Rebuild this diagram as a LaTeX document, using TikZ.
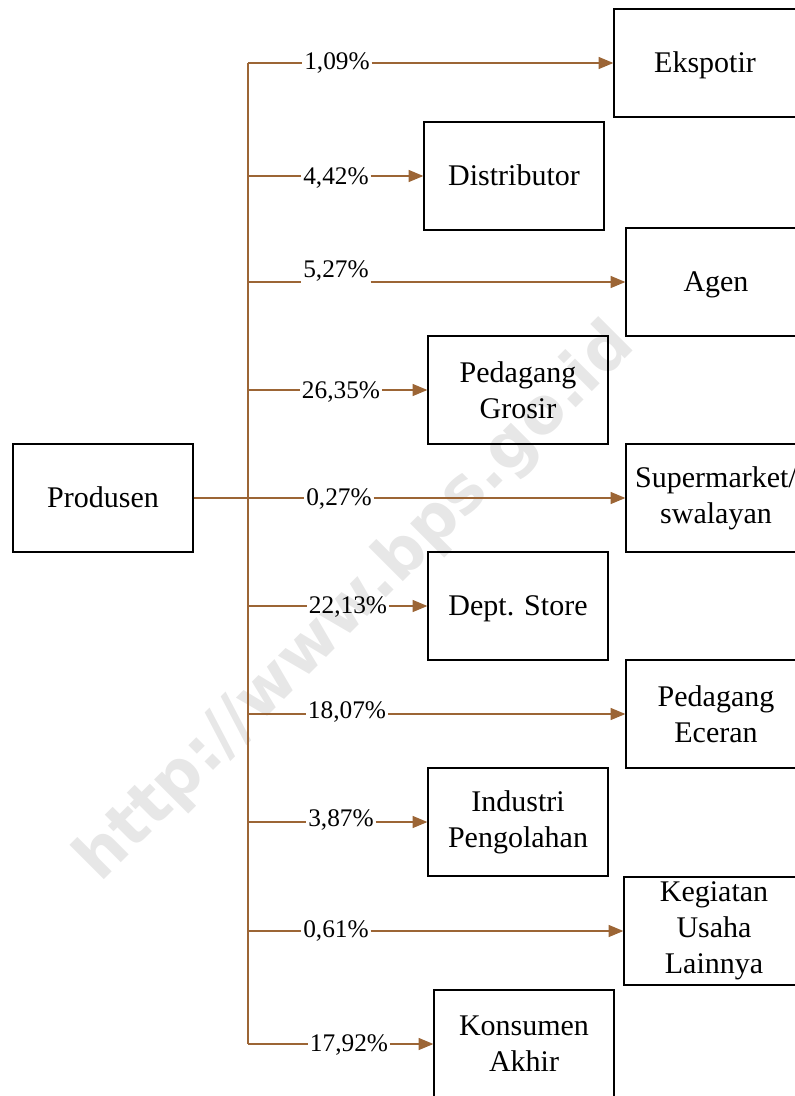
\documentclass[tikz,border=0pt]{standalone}
\usepackage{fontspec}
\setmainfont{Liberation Serif}
\newfontfamily\markfont{DejaVu Sans}
\usetikzlibrary{arrows.meta}
\definecolor{flow}{HTML}{9C6535}
\definecolor{markgray}{HTML}{E7E7E7}

\begin{document}
\begin{tikzpicture}[x=0.75pt,y=-0.75pt,
  box/.style={draw=black, line width=1pt, minimum width=135pt, minimum height=81pt,
    align=center, inner sep=0pt, font=\fontsize{22.5}{27}\selectfont},
  oneline/.style={text height=14.9pt, text depth=0pt},
  pct/.style={inner xsep=1.2pt, inner ysep=0pt, font=\fontsize{19}{22}\selectfont},
  flowline/.style={draw=flow, line width=0.8pt},
  arr/.style={flowline, -{Triangle[length=11pt,width=9pt]}}]

\useasboundingbox (0,0) rectangle (794,1096);

% faint watermark behind the chart
\node[anchor=base west, rotate=45, inner sep=0pt, text=markgray,
  font=\markfont\bfseries\fontsize{48}{52}\selectfont] (wm) at (100,884) {http://www.bps.go.id};

% source and destination boxes
\node[box, oneline] (prod)  at (103,498) {Produsen};
\node[box, oneline, minimum width=136.5pt] (eks) at (705,63) {Ekspotir};
\node[box, oneline] (dist)  at (514,176) {Distributor};
\node[box, oneline] (agen)  at (716,282) {Agen};
\node[box] (gros)  at (518,390) {Pedagang\\Grosir};
\node[box] (super) at (716,498) {Supermarket/\\swalayan};
\node[box, oneline] (dept)  at (518,606) {Dept. Store};
\node[box] (ecer)  at (716,714) {Pedagang\\Eceran};
\node[box] (ind)   at (518,822) {Industri\\Pengolahan};
\node[box] (keg)   at (714,931) {Kegiatan\\Usaha\\Lainnya};
\node[box] (kons)  at (524,1044) {Konsumen\\Akhir};

% share labels on the branches
\node[pct] (p-eks)   at (337,63)   {1,09\%};
\node[pct] (p-dist)  at (336,178)  {4,42\%};
\node[pct] (p-agen)  at (336,271)  {5,27\%};
\node[pct] (p-gros)  at (341,392)  {26,35\%};
\node[pct] (p-super) at (339,499)  {0,27\%};
\node[pct] (p-dept)  at (348,607)  {22,13\%};
\node[pct] (p-ecer)  at (347,712)  {18,07\%};
\node[pct] (p-ind)   at (341,820)  {3,87\%};
\node[pct] (p-keg)   at (336,931)  {0,61\%};
\node[pct] (p-kons)  at (349,1045) {17,92\%};

% trunk
\coordinate (top) at (248,0 |- eks);
\coordinate (bot) at (248,0 |- kons);
\coordinate (hub) at (248,0 |- prod);
\draw[flowline] (top) -- (bot);
\draw[flowline, line width=1.4pt] (prod.east) -- (hub);

% branches, broken around their labels
\foreach \n in {eks,dist,agen,gros,super,dept,ecer,ind,keg,kons}{
  \draw[flowline] (248,0 |- \n) -- (p-\n.west |- \n);
  \draw[arr] (p-\n.east |- \n) -- (\n.west);
}
\end{tikzpicture}
\end{document}
